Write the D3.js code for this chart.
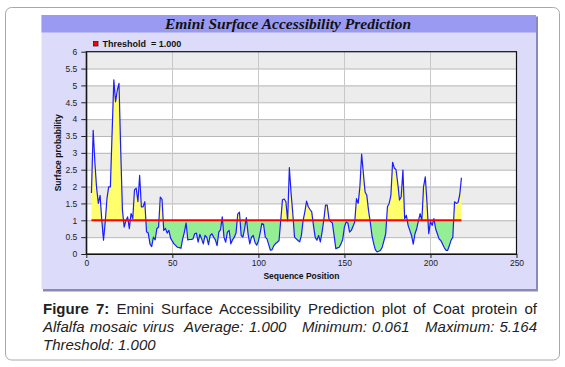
<!DOCTYPE html>
<html>
<head>
<meta charset="utf-8">
<script src="https://cdn.jsdelivr.net/npm/d3@7"></script>
<style>
  body { margin: 0; background: #fff; }
  #wrap { position: relative; width: 565px; height: 367px; }
  svg { position: absolute; left: 0; top: 0; }
  .cap { position: absolute; left: 43px; width: 494px; font-family: "Liberation Sans", Arial, sans-serif; font-size: 15px; line-height: 18px; color: #222; }
  .just { text-align: justify; text-align-last: justify; }
</style>
</head>
<body>
<div id="wrap">
  <svg id="chart" width="565" height="367"></svg>
  <div class="cap just" style="top:300px"><b>Figure 7:</b> Emini Surface Accessibility Prediction plot of Coat protein of</div>
  <div class="cap just" style="top:318px"><i>Alfalfa mosaic virus&nbsp; Average: 1.000&nbsp;&nbsp; Minimum: 0.061&nbsp;&nbsp; Maximum: 5.164</i></div>
  <div class="cap" style="top:336px"><i>Threshold: 1.000</i></div>
</div>
<script>
// Emini surface accessibility, one value per residue starting at position 3
const startPos = 3;
const values = [
  1.81, 3.67, 2.7, 1.95, 1.5, 1.74, 1.0, 0.41, 0.95, 1.64,
  1.99, 1.99, 3.6, 5.164, 4.51, 4.85, 5.06, 3.08, 1.3, 0.8,
  0.98, 1.1, 0.75, 1.2, 1.05, 1.9, 1.95, 1.55, 2.33, 1.4,
  1.4, 1.55, 0.66, 0.62, 0.3, 0.22, 0.5, 0.42, 0.75, 0.8,
  1.69, 1.62, 0.7, 0.76, 0.62, 0.7, 0.47, 0.38, 0.3, 0.25,
  0.2, 0.19, 0.17, 0.45, 0.65, 0.92, 0.42, 0.43, 0.43, 0.45,
  0.6, 0.62, 0.35, 0.58, 0.45, 0.3, 0.55, 0.5, 0.28, 0.55,
  0.6, 0.5, 0.42, 0.25, 0.65, 0.72, 1.1, 0.5, 0.35, 0.65,
  0.7, 0.3, 0.42, 0.5, 0.62, 1.18, 1.24, 0.55, 0.5, 0.75,
  1.08, 0.6, 0.3, 0.5, 0.55, 0.35, 0.26, 0.38, 0.62, 0.9,
  0.88, 0.5, 0.45, 0.28, 0.11, 0.13, 0.25, 0.31, 0.35, 0.4,
  1.0, 1.61, 1.63, 1.55, 0.98, 2.56, 1.8, 1.2, 0.5, 0.45,
  0.4, 0.36, 0.55, 1.0, 1.25, 1.57, 1.4, 1.32, 1.25, 0.85,
  0.5, 0.41, 0.55, 0.36, 0.65, 1.0, 1.45, 1.45, 1.05, 0.96,
  0.92, 0.55, 0.16, 0.18, 0.2, 0.3, 0.43, 0.8, 0.95, 0.92,
  0.65, 0.7, 0.82, 0.95, 1.64, 1.5, 2.0, 2.96, 2.4, 1.84,
  1.74, 1.3, 0.95, 0.55, 0.31, 0.12, 0.061, 0.08, 0.11, 0.21,
  0.4, 0.6, 1.4, 1.5, 1.74, 2.72, 2.55, 2.5, 2.09, 1.6,
  1.7, 2.49, 1.05, 1.15, 0.85, 0.7, 0.55, 0.29, 0.6, 0.75,
  0.98, 1.2, 1.0, 2.0, 2.29, 1.5, 0.6, 0.96, 0.85, 1.05,
  0.75, 0.6, 0.45, 0.4, 0.3, 0.19, 0.11, 0.11, 0.25, 0.41,
  0.5, 1.55, 1.5, 1.52, 1.75, 2.26
];
const threshold = 1.0;
const xTicks = [0, 50, 100, 150, 200, 250];
const yTicks = [0, 0.5, 1, 1.5, 2, 2.5, 3, 3.5, 4, 4.5, 5, 5.5, 6];

const data = values.map((v, i) => ({pos: startPos + i, v: v}));

const svg = d3.select("#chart");
const font = "'Liberation Sans', Arial, sans-serif";

const x = d3.scaleLinear().domain([0, 250]).range([86.3, 516.5]);
const y = d3.scaleLinear().domain([0, 6]).range([254, 51.7]);

// outer rounded frame
svg.append("rect")
    .attr("x", 5.5).attr("y", 7.5).attr("width", 554).attr("height", 352.5)
    .attr("rx", 6).attr("fill", "#fff").attr("stroke", "#a8a8a8");

// chart panel with shadow edge
svg.append("rect")
    .attr("x", 43).attr("y", 16.5).attr("width", 495).attr("height", 275)
    .attr("fill", "#8a8ab8");
svg.append("rect")
    .attr("x", 41.5).attr("y", 15).attr("width", 494.5).attr("height", 274)
    .attr("fill", "#dcdcfa");
svg.append("rect")
    .attr("x", 41.5).attr("y", 15).attr("width", 494.5).attr("height", 17.5)
    .attr("fill", "#9a9af2");

svg.append("text")
    .attr("x", 288).attr("y", 29)
    .attr("text-anchor", "middle")
    .attr("font-family", "'Liberation Serif', 'Times New Roman', serif")
    .attr("font-weight", "bold").attr("font-style", "italic")
    .attr("font-size", 15.5).attr("fill", "#111")
    .text("Emini Surface Accessibility Prediction");

// legend
svg.append("rect")
    .attr("x", 93.5).attr("y", 41.5).attr("width", 4.5).attr("height", 4.5)
    .attr("fill", "#ff0000").attr("stroke", "#222").attr("stroke-width", 0.8);
svg.append("text")
    .attr("x", 102.5).attr("y", 46.5)
    .attr("font-family", font).attr("font-weight", "bold").attr("font-size", 9)
    .attr("fill", "#111")
    .text("Threshold\u00a0 = 1.000");

// plot background bands
const bands = d3.range(0, 12).map(i => i * 0.5);
svg.append("g").selectAll("rect")
    .data(bands)
    .join("rect")
    .attr("x", x(0)).attr("width", x(250) - x(0))
    .attr("y", d => y(d + 0.5)).attr("height", d => y(d) - y(d + 0.5))
    .attr("fill", (d, i) => i % 2 === 1 ? "#ececec" : "#ffffff");

// grid lines
svg.append("g").selectAll("line")
    .data(yTicks.slice(1, -1))
    .join("line")
    .attr("x1", x(0)).attr("x2", x(250))
    .attr("y1", d => y(d) + 0.5).attr("y2", d => y(d) + 0.5)
    .attr("stroke", "#b8b8b8");
svg.append("g").selectAll("line")
    .data(xTicks.slice(1, -1))
    .join("line")
    .attr("x1", d => Math.round(x(d)) + 0.5).attr("x2", d => Math.round(x(d)) + 0.5)
    .attr("y1", y(6)).attr("y2", y(0))
    .attr("stroke", "#c8c8c8");

// clip regions above / below the threshold
const defs = svg.append("defs");
defs.append("clipPath").attr("id", "above").append("rect")
    .attr("x", x(0)).attr("y", y(6)).attr("width", x(250) - x(0)).attr("height", y(threshold) - y(6));
defs.append("clipPath").attr("id", "below").append("rect")
    .attr("x", x(0)).attr("y", y(threshold)).attr("width", x(250) - x(0)).attr("height", y(0) - y(threshold));

const area = d3.area()
    .x(d => x(d.pos))
    .y0(y(threshold))
    .y1(d => y(d.v));

svg.append("path").datum(data)
    .attr("d", area).attr("fill", "#ffff6e").attr("clip-path", "url(#above)");
svg.append("path").datum(data)
    .attr("d", area).attr("fill", "#94ee94").attr("clip-path", "url(#below)");

const line = d3.line()
    .x(d => x(d.pos))
    .y(d => y(d.v));

svg.append("path").datum(data)
    .attr("d", line).attr("fill", "none")
    .attr("stroke", "#1c1cff").attr("stroke-width", 1.2)
    .attr("stroke-linejoin", "round");

// threshold line
svg.append("line")
    .attr("x1", x(data[0].pos)).attr("x2", x(data[data.length - 1].pos))
    .attr("y1", y(threshold)).attr("y2", y(threshold))
    .attr("stroke", "#ff0000").attr("stroke-width", 2);

// plot border
svg.append("rect")
    .attr("x", x(0)).attr("y", y(6)).attr("width", x(250) - x(0)).attr("height", y(0) - y(6))
    .attr("fill", "none").attr("stroke", "#111").attr("stroke-width", 1.2);

// axes
const yAxis = d3.axisLeft(y).tickValues(yTicks).tickSize(5).tickSizeOuter(0).tickFormat(d => d);
const xAxis = d3.axisBottom(x).tickValues(xTicks).tickSize(4).tickSizeOuter(0).tickFormat(d => d);

svg.append("g")
    .attr("transform", `translate(${x(0)},0)`)
    .call(yAxis)
    .call(g => g.selectAll("text").attr("font-family", font).attr("font-size", 8.5).attr("fill", "#222").attr("dx", "-1"))
    .call(g => g.selectAll("line").attr("stroke", "#222"))
    .call(g => g.select(".domain").attr("stroke", "#111"));

svg.append("g")
    .attr("transform", `translate(0,${y(0)})`)
    .call(xAxis)
    .call(g => g.selectAll("text").attr("font-family", font).attr("font-size", 8.5).attr("fill", "#222").attr("dy", "0.6em"))
    .call(g => g.selectAll("line").attr("stroke", "#222"))
    .call(g => g.select(".domain").attr("stroke", "#111"));

svg.append("text")
    .attr("x", (x(0) + x(250)) / 2).attr("y", 279)
    .attr("text-anchor", "middle")
    .attr("font-family", font).attr("font-weight", "bold").attr("font-size", 8.5)
    .attr("fill", "#111")
    .text("Sequence Position");

svg.append("text")
    .attr("transform", `translate(61,${(y(0) + y(6)) / 2}) rotate(-90)`)
    .attr("text-anchor", "middle")
    .attr("font-family", font).attr("font-weight", "bold").attr("font-size", 8.5)
    .attr("fill", "#111")
    .text("Surface probability");
</script>
</body>
</html>
